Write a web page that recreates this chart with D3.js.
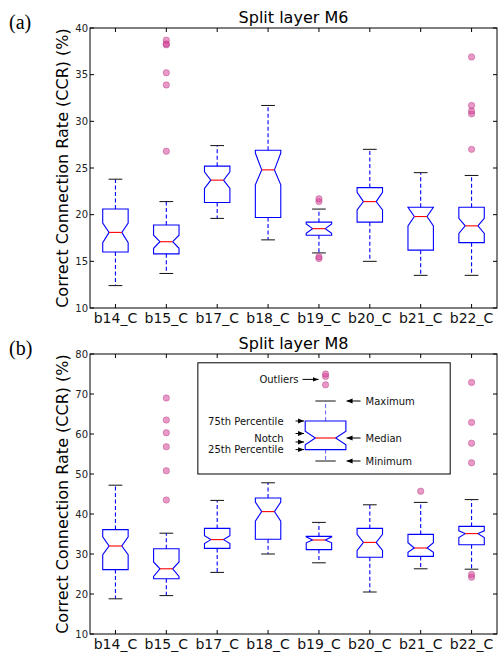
<!DOCTYPE html>
<html>
<head>
<meta charset="utf-8">
<script src="https://cdn.jsdelivr.net/npm/d3@7"></script>
<style>
  body { margin: 0; background: #fff; }
  text { font-family: "DejaVu Sans", sans-serif; }
</style>
</head>
<body>
<div id="chart"></div>
<script>
var categories = ["b14_C", "b15_C", "b17_C", "b18_C", "b19_C", "b20_C", "b21_C", "b22_C"];

// (a) split layer M6
var m6WhiskerLow  = [12.4, 13.7, 19.6, 17.3, 15.9, 15.0, 13.5, 13.5];
var m6Q1          = [16.0, 15.8, 21.3, 19.7, 17.8, 19.2, 16.2, 17.0];
var m6NotchLow    = [17.0, 16.4, 22.8, 23.2, 18.0, 20.5, 18.8, 18.0];
var m6Median      = [18.1, 17.1, 23.7, 24.8, 18.5, 21.4, 19.8, 18.8];
var m6NotchHigh   = [19.1, 17.8, 24.6, 26.6, 19.0, 22.4, 20.8, 19.6];
var m6Q3          = [20.6, 18.9, 25.2, 26.9, 19.2, 22.9, 20.8, 20.8];
var m6WhiskerHigh = [23.8, 21.4, 27.4, 31.7, 20.6, 27.0, 24.5, 24.2];
var m6Outliers = [[], [26.8, 33.9, 35.2, 38.2, 38.3, 38.7], [], [], [15.3, 15.5, 21.4, 21.7],
                  [], [], [27.0, 30.8, 31.1, 31.7, 36.9]];
var m6Ticks = [10, 15, 20, 25, 30, 35, 40];

// (b) split layer M8
var m8WhiskerLow  = [18.8, 19.6, 25.4, 30.0, 27.8, 20.5, 26.3, 26.2];
var m8Q1          = [26.1, 23.8, 31.4, 33.7, 31.1, 29.2, 29.4, 32.3];
var m8NotchLow    = [29.8, 24.4, 32.6, 38.2, 32.8, 30.9, 30.4, 34.1];
var m8Median      = [32.0, 26.3, 33.6, 40.6, 33.5, 32.9, 31.5, 35.1];
var m8NotchHigh   = [34.3, 28.0, 34.6, 43.0, 34.3, 34.9, 32.8, 35.8];
var m8Q3          = [36.1, 31.3, 36.4, 44.0, 34.4, 36.4, 34.9, 36.9];
var m8WhiskerHigh = [47.2, 35.2, 43.4, 47.8, 37.9, 42.3, 42.9, 43.6];
var m8Outliers = [[], [43.5, 50.8, 56.8, 60.3, 63.5, 69.0], [], [], [], [], [45.7],
                  [24.2, 24.9, 52.8, 57.7, 62.9, 72.9]];
var m8Ticks = [10, 20, 30, 40, 50, 60, 70, 80];

// explanatory inset in (b): position on the category axis and its box values
var legendPos = 5.13;
var legendStats = [53.25, 56.1, 57.3, 59.0, 60.7, 63.25, 68.25]; // min, q1, notchLo, med, notchHi, q3, max
var legendOutliers = [72.3, 74.4, 75.0];
var legendFrame = [2.62, 7.58, 50.0, 77.8]; // x0, x1, y0, y1
var legendLeftLabels = ["75th Percentile", "Notch", "25th Percentile"];
var legendRightLabels = ["Maximum", "Median", "Minimum"];

var W = 498, H = 654;
var svg = d3.select("#chart").append("svg")
  .attr("width", W)
  .attr("height", H);

var defs = svg.append("defs");
defs.append("marker")
  .attr("id", "arrow")
  .attr("viewBox", "0 0 10 10")
  .attr("refX", 10).attr("refY", 5)
  .attr("markerWidth", 6).attr("markerHeight", 6)
  .attr("markerUnits", "userSpaceOnUse")
  .attr("orient", "auto")
  .append("path")
  .attr("d", "M0,1 L10,5 L0,9 Z")
  .attr("fill", "#000");

var x = d3.scaleLinear().domain([0.5, 8.5]).range([90, 497]);

function notchPath(y, pos, half, waist, s) {
  // s = [lo, q1, nLo, med, nHi, q3, hi]
  var L = x(pos - half), R = x(pos + half);
  var wl = x(pos - waist), wr = x(pos + waist);
  return d3.line()([
    [L, y(s[1])], [R, y(s[1])], [R, y(s[2])], [wr, y(s[3])], [R, y(s[4])],
    [R, y(s[5])], [L, y(s[5])], [L, y(s[4])], [wl, y(s[3])], [L, y(s[2])]
  ]) + "Z";
}

function drawBox(g, y, pos, s, outs, half, waist, cap, whiskerOpacity) {
  var cx = x(pos);
  // whiskers
  [[s[5], s[6]], [s[1], s[0]]].forEach(function(w) {
    g.append("line")
      .attr("x1", cx).attr("x2", cx)
      .attr("y1", y(w[0])).attr("y2", y(w[1]))
      .attr("stroke", "#0000ff")
      .attr("stroke-opacity", whiskerOpacity)
      .attr("stroke-width", 1.1)
      .attr("stroke-dasharray", "4,2.5");
  });
  // caps
  [s[0], s[6]].forEach(function(v) {
    g.append("line")
      .attr("x1", x(pos - cap)).attr("x2", x(pos + cap))
      .attr("y1", y(v)).attr("y2", y(v))
      .attr("stroke", "#111")
      .attr("stroke-width", 1);
  });
  g.append("path")
    .attr("d", notchPath(y, pos, half, waist, s))
    .attr("fill", "none")
    .attr("stroke", "#0000ff")
    .attr("stroke-width", 1.1);
  g.append("line")
    .attr("x1", x(pos - waist)).attr("x2", x(pos + waist))
    .attr("y1", y(s[3])).attr("y2", y(s[3]))
    .attr("stroke", "#ff0000")
    .attr("stroke-width", 1.1);
  g.selectAll(null)
    .data(outs)
    .enter()
    .append("circle")
    .attr("cx", cx)
    .attr("cy", d => y(d))
    .attr("r", 3.2)
    .attr("fill", "#d9439a")
    .attr("fill-opacity", 0.55)
    .attr("stroke", "#a02c70")
    .attr("stroke-opacity", 0.45)
    .attr("stroke-width", 0.8);
}

function drawPanel(opt) {
  var y = d3.scaleLinear().domain([opt.ticks[0], opt.ticks[opt.ticks.length - 1]]).range([opt.bottom, opt.top]);
  var g = svg.append("g");

  // frame
  g.append("rect")
    .attr("x", x(0.5)).attr("y", opt.top)
    .attr("width", x(8.5) - x(0.5)).attr("height", opt.bottom - opt.top)
    .attr("fill", "none").attr("stroke", "#000").attr("stroke-width", 1);

  // y ticks inside both sides
  opt.ticks.forEach(function(t) {
    var yy = y(t);
    g.append("line").attr("x1", x(0.5)).attr("x2", x(0.5) + 4).attr("y1", yy).attr("y2", yy).attr("stroke", "#000");
    g.append("line").attr("x1", x(8.5)).attr("x2", x(8.5) - 4).attr("y1", yy).attr("y2", yy).attr("stroke", "#000");
    g.append("text")
      .attr("x", x(0.5) - 2).attr("y", yy)
      .attr("text-anchor", "end")
      .attr("dominant-baseline", "central")
      .attr("font-size", 10)
      .attr("fill", "#222")
      .text(t);
  });

  // x ticks top and bottom
  categories.forEach(function(c, i) {
    var xx = x(i + 1);
    g.append("line").attr("x1", xx).attr("x2", xx).attr("y1", opt.bottom).attr("y2", opt.bottom - 4).attr("stroke", "#000");
    g.append("line").attr("x1", xx).attr("x2", xx).attr("y1", opt.top).attr("y2", opt.top + 4).attr("stroke", "#000");
    g.append("text")
      .attr("x", xx).attr("y", opt.bottom + 15)
      .attr("text-anchor", "middle")
      .attr("font-size", 14)
      .attr("fill", "#111")
      .text(c);
  });

  categories.forEach(function(c, i) {
    var s = [opt.lo[i], opt.q1[i], opt.nLo[i], opt.med[i], opt.nHi[i], opt.q3[i], opt.hi[i]];
    drawBox(g, y, i + 1, s, opt.outliers[i], 0.25, 0.125, 0.135, 1);
  });

  g.append("text")
    .attr("x", (x(0.5) + x(8.5)) / 2).attr("y", opt.top - 5)
    .attr("text-anchor", "middle")
    .attr("font-size", 16)
    .attr("fill", "#000")
    .text(opt.title);

  g.append("text")
    .attr("transform", "translate(68," + ((opt.top + opt.bottom) / 2) + ") rotate(-90)")
    .attr("text-anchor", "middle")
    .attr("font-size", 16)
    .attr("fill", "#000")
    .text("Correct Connection Rate (CCR) (%)");

  g.append("text")
    .attr("x", 9).attr("y", opt.top + 1)
    .style("font-family", "'Liberation Serif', 'DejaVu Serif', serif")
    .attr("font-size", 20)
    .text(opt.tag);

  return y;
}

drawPanel({
  tag: "(a)", title: "Split layer M6", top: 28, bottom: 308, ticks: m6Ticks,
  lo: m6WhiskerLow, q1: m6Q1, nLo: m6NotchLow, med: m6Median, nHi: m6NotchHigh,
  q3: m6Q3, hi: m6WhiskerHigh, outliers: m6Outliers
});

var yb = drawPanel({
  tag: "(b)", title: "Split layer M8", top: 354, bottom: 634, ticks: m8Ticks,
  lo: m8WhiskerLow, q1: m8Q1, nLo: m8NotchLow, med: m8Median, nHi: m8NotchHigh,
  q3: m8Q3, hi: m8WhiskerHigh, outliers: m8Outliers
});

// inset explaining the notched box
var inset = svg.append("g");
inset.append("rect")
  .attr("x", x(legendFrame[0])).attr("y", yb(legendFrame[3]))
  .attr("width", x(legendFrame[1]) - x(legendFrame[0]))
  .attr("height", yb(legendFrame[2]) - yb(legendFrame[3]))
  .attr("fill", "#fff").attr("stroke", "#000").attr("stroke-width", 1);

drawBox(inset, yb, legendPos, legendStats, legendOutliers, 0.4, 0.2, 0.2, 0.55);

var lcx = x(legendPos);
function arrow(x1, x2, yy) {
  inset.append("line")
    .attr("x1", x1).attr("x2", x2).attr("y1", yy).attr("y2", yy)
    .attr("stroke", "#000").attr("stroke-width", 1)
    .attr("marker-end", "url(#arrow)");
}
function label(txt, xx, yy, anchor) {
  inset.append("text")
    .attr("x", xx).attr("y", yy)
    .attr("text-anchor", anchor)
    .attr("dominant-baseline", "central")
    .attr("font-size", 10)
    .attr("fill", "#111")
    .text(txt);
}

// outliers
var oy = yb(d3.mean(legendOutliers)) + 1;
label("Outliers", lcx - 27, oy, "end");
arrow(lcx - 23, lcx - 7, oy);

// left side: 75th, notch (two arrows), 25th
var leftY = [yb(legendStats[5]), (yb(legendStats[4]) + yb(legendStats[2])) / 2, yb(legendStats[1])];
legendLeftLabels.forEach(function(t, i) {
  label(t, lcx - 42, leftY[i], "end");
});
arrow(lcx - 30, lcx - 21.5, yb(legendStats[5]));
arrow(lcx - 30, lcx - 21.5, leftY[1] - 4.5);
arrow(lcx - 30, lcx - 21.5, leftY[1] + 4);
arrow(lcx - 30, lcx - 21.5, yb(legendStats[1]));

// right side: max, median, min
var rightY = [yb(legendStats[6]), yb(legendStats[3]), yb(legendStats[0])];
legendRightLabels.forEach(function(t, i) {
  label(t, lcx + 40, rightY[i], "start");
  arrow(lcx + 35, lcx + 21, rightY[i]);
});
</script>
</body>
</html>
